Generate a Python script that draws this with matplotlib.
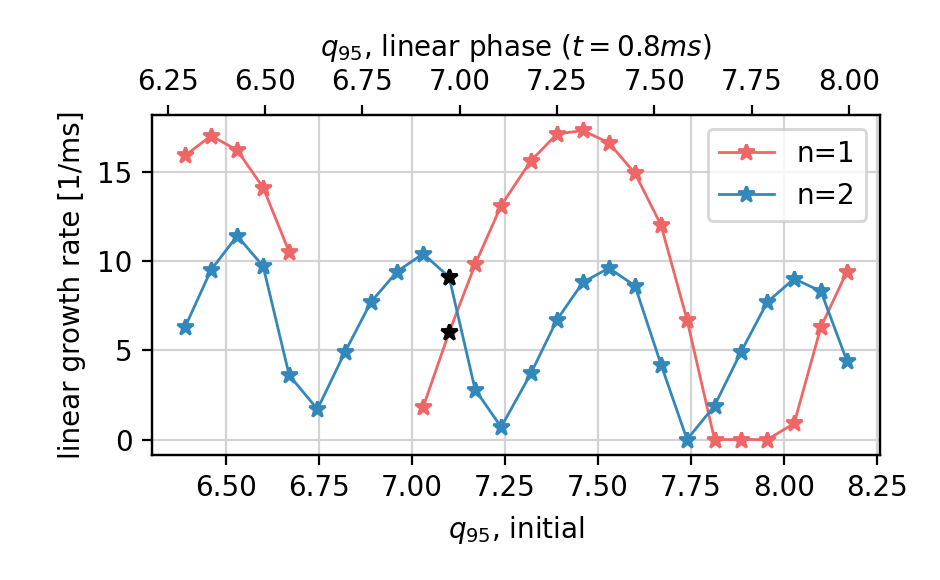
import matplotlib

matplotlib.use("Agg")
import matplotlib.pyplot as plt
import numpy as np

N1_C = "#EE6666"
N2_C = "#3388BB"

q95_init = [6.39, 6.46, 6.53, 6.60, 6.67, 6.746, 6.82, 6.89, 6.96, 7.03,
            7.10, 7.17, 7.24, 7.32, 7.39, 7.46, 7.53, 7.60, 7.67, 7.74,
            7.814, 7.885, 7.956, 8.028, 8.10, 8.17]
gamma_n1 = [15.9, 17.0, 16.2, 14.1, 10.5, np.nan, np.nan, np.nan, np.nan, 1.8,
            6.0, 9.8, 13.1, 15.6, 17.1, 17.3, 16.6, 14.9, 12.0, 6.7,
            0.0, 0.0, 0.0, 0.9, 6.3, 9.4]
gamma_n2 = [6.3, 9.5, 11.4, 9.7, 3.6, 1.7, 4.9, 7.7, 9.4, 10.4,
            9.1, 2.8, 0.7, 3.7, 6.7, 8.8, 9.6, 8.6, 4.2, 0.0,
            1.9, 4.9, 7.7, 9.0, 8.3, 4.4]
# highlighted case (black stars)
hl_idx = 10

top_lim = (6.21, 8.08)

plt.rcParams.update({"font.size": 10})

fig = plt.figure(figsize=(4.7, 2.9), dpi=200)
ax = fig.add_axes([0.1617, 0.2155, 0.7745, 0.5862])
ax.grid(True, color="#d3d3d3", linewidth=0.8)
ax.set_axisbelow(True)

ax.plot(q95_init, gamma_n1, "-*", color=N1_C, lw=1, ms=6, label="n=1")
ax.plot(q95_init, gamma_n2, "-*", color=N2_C, lw=1, ms=6, label="n=2")
ax.plot([q95_init[hl_idx]] * 2, [gamma_n1[hl_idx], gamma_n2[hl_idx]], "*",
        color="k", ms=6, zorder=5)

ax.set_xlabel("$q_{95}$, initial")
ax.set_ylabel("linear growth rate [1/ms]")
ax.set_yticks([0, 5, 10, 15])
ax.legend(loc="upper right")

ax2 = ax.twiny()
ax2.set_xlim(*top_lim)
ax2.set_xticks(np.arange(6.25, 8.01, 0.25))
ax2.set_xlabel("$q_{95}$, linear phase ($t=0.8ms$)")

fig.savefig("out.png")
